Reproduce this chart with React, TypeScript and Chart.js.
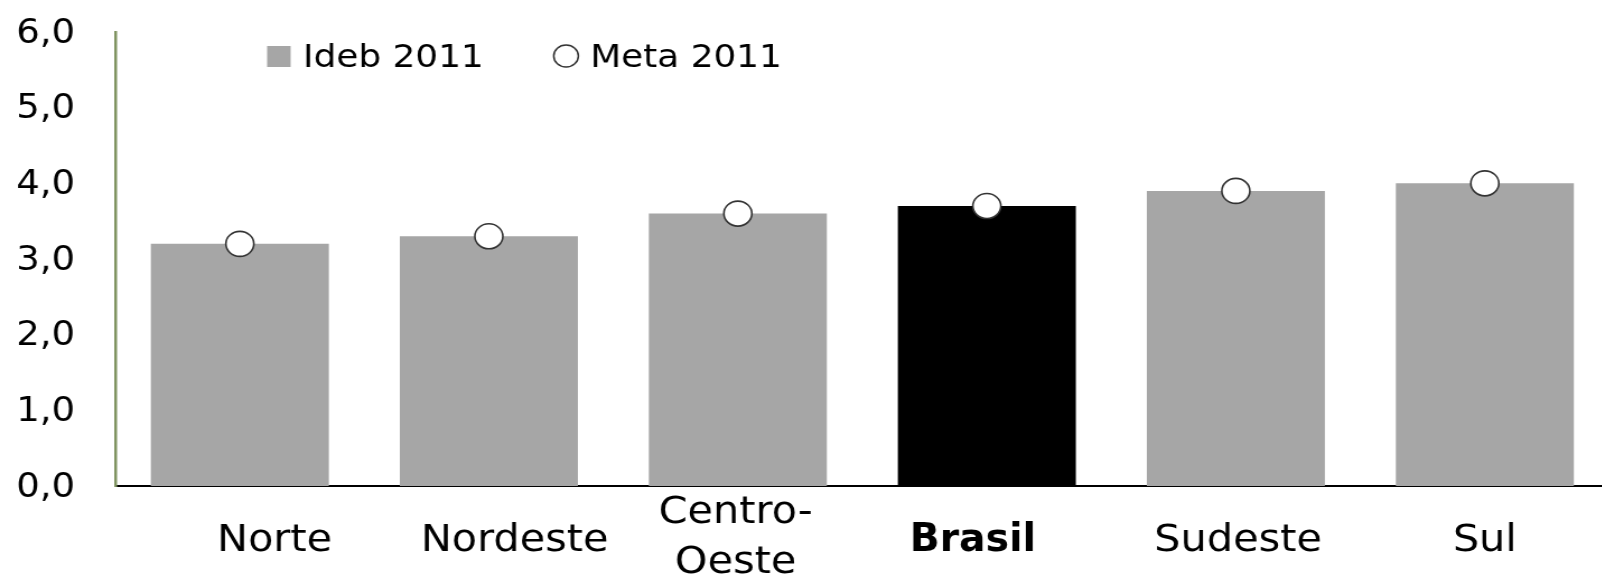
import React, { useEffect, useRef } from "react";
import { Chart, registerables } from "chart.js";

Chart.register(...registerables);

const categories: (string | string[])[] = [
  "Norte",
  "Nordeste",
  ["Centro-", "Oeste"],
  "Brasil",
  "Sudeste",
  "Sul",
];
const ideb2011 = [3.2, 3.3, 3.6, 3.7, 3.9, 4.0];
const meta2011 = [3.2, 3.3, 3.6, 3.7, 3.9, 4.0];
const yTicks = [0, 1, 2, 3, 4, 5, 6];
const seriesLabels = ["Ideb 2011", "Meta 2011"];
const highlightCategory = "Brasil";

// style: horizontal nudge of each category label (px), as in the source layout
const xLabelNudge = [31, 23, -2, -12.5, 2, 0];

const FONT = '"DejaVu Sans", Verdana, sans-serif';
const BOLD_FONT = '"DejaVu Sans Condensed", "DejaVu Sans", Verdana, sans-serif';
const GRAY = "#a6a6a6";

const legendPlugin = {
  id: "customLegend",
  afterDraw(chart: any) {
    const ctx = chart.ctx as CanvasRenderingContext2D;
    const ds = chart.data.datasets;
    const bar = ds.find((d: any) => d.type === "bar");
    const pts = ds.find((d: any) => d.type === "line");
    ctx.save();
    ctx.font = `32px ${FONT}`;
    ctx.textBaseline = "alphabetic";
    ctx.textAlign = "left";
    ctx.fillStyle = GRAY;
    ctx.fillRect(238.5, 46, 21, 21);
    ctx.fillStyle = "#000";
    ctx.fillText(bar.label, 270.5, 66.5);
    ctx.beginPath();
    ctx.arc(505.4, 56, 11, 0, Math.PI * 2);
    ctx.fillStyle = "#fff";
    ctx.fill();
    ctx.lineWidth = 1.5;
    ctx.strokeStyle = "#333";
    ctx.stroke();
    ctx.fillStyle = "#000";
    ctx.fillText(pts.label, 527, 66.5);
    ctx.restore();
  },
};

const labelNudgePlugin = {
  id: "labelNudge",
  beforeDraw(chart: any) {
    const sx = chart.scales.x;
    if (sx && typeof sx.getLabelItems === "function") {
      const items = sx.getLabelItems(chart.chartArea) || [];
      items.forEach((it: any, i: number) => {
        if (it.__nudged || !it.options || !it.options.translation) return;
        const t = it.options.translation;
        t[0] += xLabelNudge[i] || 0;
        if (!Array.isArray(it.label)) t[1] += 3;
        it.__nudged = true;
      });
    }
    const sy = chart.scales.y;
    if (sy && typeof sy.getLabelItems === "function") {
      const items = sy.getLabelItems(chart.chartArea) || [];
      items.forEach((it: any) => {
        if (it.__nudged || !it.options || !it.options.translation) return;
        it.options.translation[1] += 2;
        it.__nudged = true;
      });
    }
  },
};

const zeroPad = (s: any) => {
  s.paddingTop = 0;
  s.paddingBottom = 0;
  s.paddingLeft = 0;
  s.paddingRight = 0;
};

export default function App() {
  const ref = useRef<HTMLCanvasElement | null>(null);

  useEffect(() => {
    if (!ref.current) return;
    const isHighlight = (c: string | string[]) =>
      (Array.isArray(c) ? c.join(" ") : c) === highlightCategory;
    const barColors = categories.map((c) => (isHighlight(c) ? "#000000" : GRAY));

    const chart = new Chart(ref.current, {
      type: "bar",
      data: {
        labels: categories as any,
        datasets: [
          {
            type: "line",
            label: seriesLabels[1],
            data: meta2011,
            showLine: false,
            pointStyle: "circle",
            pointRadius: 12.5,
            pointHoverRadius: 12.5,
            pointBackgroundColor: "#ffffff",
            pointBorderColor: "#333333",
            pointBorderWidth: 1.6,
            order: 0,
          } as any,
          {
            type: "bar",
            label: seriesLabels[0],
            data: ideb2011,
            backgroundColor: barColors,
            borderWidth: 0,
            barPercentage: 0.715,
            categoryPercentage: 1.0,
            order: 1,
          } as any,
        ],
      },
      options: {
        responsive: false,
        animation: false,
        events: [],
        layout: { padding: { top: 32, right: 3.5, bottom: 0, left: 0 } },
        plugins: {
          legend: { display: false },
          tooltip: { enabled: false },
          title: { display: false },
        },
        scales: {
          x: {
            grid: { display: false, drawTicks: false },
            border: { display: true, color: "#000000", width: 2 },
            ticks: {
              padding: 27,
              color: "#000",
              maxRotation: 0,
              autoSkip: false,
              crossAlign: "center",
              font: (c: any) =>
                c.index === 3
                  ? { family: BOLD_FONT, size: 39, lineHeight: 1.3, weight: "bold" }
                  : { family: FONT, size: 37, lineHeight: 1.37, weight: "normal" },
            } as any,
            afterFit: (s: any) => {
              s.height = 94;
              zeroPad(s);
            },
          },
          y: {
            min: 0,
            max: 6,
            grid: { display: false, drawTicks: false },
            border: { display: true, color: "#7f9360", width: 2.5 },
            afterBuildTicks: (s: any) => {
              s.ticks = yTicks.map((v) => ({ value: v }));
            },
            ticks: {
              padding: 36,
              color: "#000",
              font: { family: FONT, size: 33 },
              callback: (v: any) => Number(v).toFixed(1).replace(".", ","),
            },
            afterFit: (s: any) => {
              s.width = 103;
              zeroPad(s);
            },
          },
        },
      },
      plugins: [labelNudgePlugin, legendPlugin],
    });
    return () => chart.destroy();
  }, []);

  return (
    <div
      style={{
        position: "fixed",
        left: 0,
        top: 0,
        width: 1602,
        height: 580,
        overflow: "hidden",
        background: "#fff",
      }}
    >
      <canvas
        ref={ref}
        width={1451}
        height={580}
        style={{
          width: 1451,
          height: 580,
          display: "block",
          transform: "scaleX(1.12)",
          transformOrigin: "0 0",
        }}
      />
    </div>
  );
}
